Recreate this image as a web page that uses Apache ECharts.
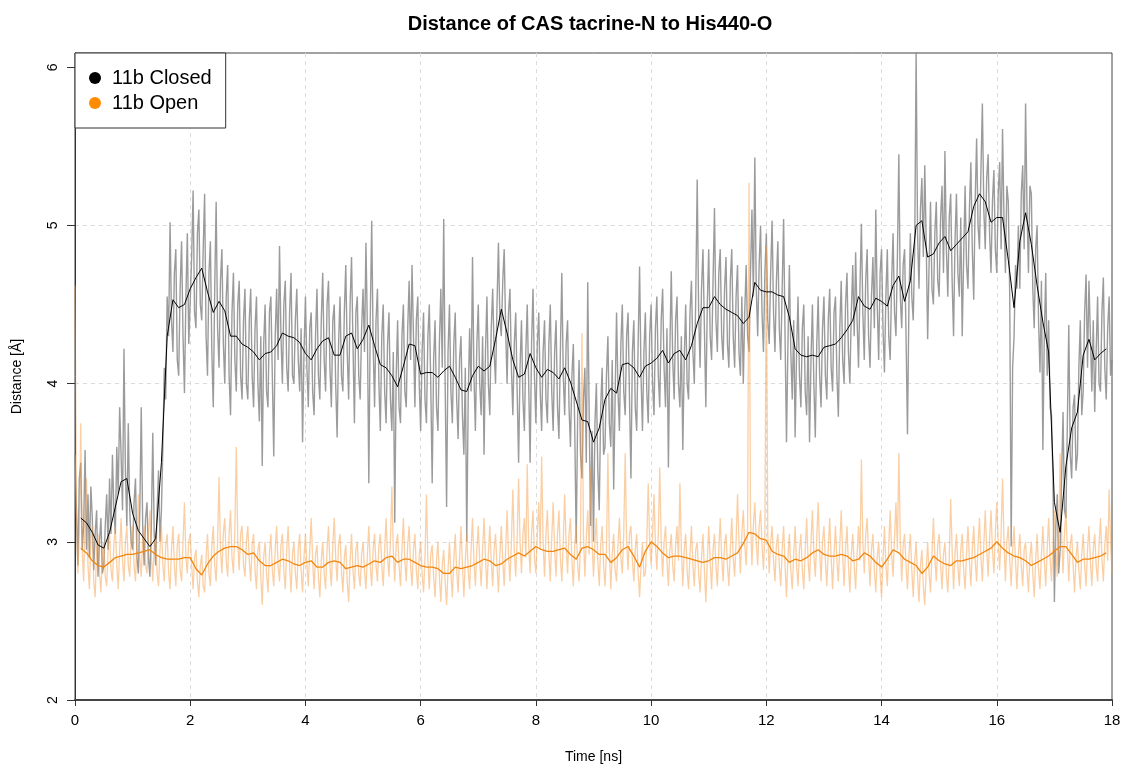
<!DOCTYPE html>
<html>
<head>
<meta charset="utf-8">
<title>Distance of CAS tacrine-N to His440-O</title>
<script src="https://cdn.jsdelivr.net/npm/echarts@6/dist/echarts.min.js"></script>
<style>
  html, body { margin: 0; padding: 0; background: #fff; }
  #chart { width: 1122px; height: 767px; }
</style>
</head>
<body>
<div id="chart"></div>
<script>
// Sampling of the trajectories (ns between stored frames)
const rawStep = 0.025;
const smoothStart = 0.1;
const smoothStep = 0.1;

const xTicks = [0, 2, 4, 6, 8, 10, 12, 14, 16, 18];
const yTicks = [2, 3, 4, 5, 6];

// 11b Closed: raw distance, two rows per ns
const closedRaw = [
  3.55, 3.20, 2.85, 3.40, 3.50, 2.95, 3.10, 3.58, 2.95, 3.30, 2.90, 3.35, 3.15, 2.82, 3.05, 3.20, 2.78, 3.00, 3.15, 2.80,
  2.85, 3.10, 3.30, 2.95, 3.40, 3.05, 3.55, 3.20, 3.05, 3.60, 3.30, 3.85, 3.55, 3.20, 4.22, 3.45, 3.10, 3.75, 3.20, 3.00,
  2.95, 3.25, 3.40, 2.90, 2.80, 3.20, 3.85, 3.10, 2.85, 3.15, 3.25, 2.90, 2.78, 3.10, 3.69, 3.05, 2.85, 3.20, 3.45, 3.00,
  3.20, 3.60, 4.10, 3.90, 4.55, 4.30, 5.02, 4.40, 4.20, 4.70, 4.85, 4.15, 4.05, 4.60, 4.90, 4.30, 3.94, 4.55, 4.95, 4.25,
  4.25, 4.80, 5.22, 4.45, 4.35, 4.95, 5.10, 4.50, 4.40, 4.85, 5.20, 4.30, 4.05, 4.70, 4.90, 4.20, 3.85, 4.60, 5.15, 4.35,
  4.10, 4.65, 4.85, 4.25, 4.00, 4.55, 4.75, 4.05, 3.80, 4.45, 4.70, 4.15, 3.95, 4.50, 4.65, 4.05, 3.90, 4.40, 4.60, 4.00,
  3.90, 4.40, 4.60, 4.05, 3.85, 4.35, 4.55, 4.00, 3.76, 4.30, 3.48, 4.25, 4.50, 3.95, 3.85, 4.45, 4.55, 4.05, 3.54, 4.30,
  4.60, 4.15, 4.87, 4.30, 4.00, 4.50, 4.65, 4.10, 3.95, 4.45, 4.70, 4.05, 4.00, 4.40, 4.60, 4.15, 3.95, 4.35, 3.63, 4.20,
  4.55, 4.10, 3.85, 4.35, 4.45, 3.95, 3.80, 4.30, 4.60, 4.05, 3.90, 4.40, 4.70, 4.15, 3.95, 4.50, 4.65, 4.10, 3.85, 4.40,
  4.50, 4.00, 3.66, 4.25, 4.55, 4.05, 3.95, 4.45, 4.75, 4.20, 3.90, 4.50, 4.80, 4.25, 3.75, 4.45, 4.55, 4.05, 3.90, 4.35,
  4.60, 4.20, 4.89, 4.35, 3.37, 4.40, 5.03, 4.25, 3.85, 4.40, 4.60, 4.00, 3.70, 4.30, 4.50, 3.95, 3.75, 4.25, 4.45, 3.90,
  3.70, 4.20, 3.12, 4.05, 4.40, 3.85, 3.75, 4.30, 4.50, 3.95, 3.85, 4.35, 4.65, 4.15, 4.75, 4.30, 3.85, 4.40, 4.55, 4.00,
  3.70, 4.20, 4.45, 3.90, 3.75, 4.30, 4.50, 4.00, 3.37, 4.15, 4.40, 3.85, 3.70, 4.25, 4.60, 4.10, 5.04, 4.00, 3.22, 4.20,
  4.50, 3.95, 3.75, 4.25, 4.45, 3.90, 3.65, 4.15, 4.30, 3.80, 3.55, 4.10, 3.00, 3.90, 4.35, 3.95, 4.80, 4.05, 3.70, 4.25,
  4.50, 4.00, 3.80, 4.30, 3.55, 4.20, 4.55, 4.00, 3.80, 4.35, 4.60, 4.20, 4.00, 4.50, 4.89, 4.40, 4.30, 4.65, 4.85, 4.35,
  4.00, 4.45, 4.60, 4.10, 3.80, 4.25, 4.45, 3.95, 3.50, 4.10, 4.40, 3.90, 3.70, 4.20, 4.50, 4.00, 3.50, 4.25, 4.60, 4.05,
  3.75, 4.25, 4.45, 3.95, 3.70, 4.20, 4.40, 3.90, 3.75, 4.25, 4.50, 3.95, 3.70, 4.20, 4.40, 3.85, 3.65, 4.20, 4.70, 4.05,
  3.80, 4.25, 4.40, 3.85, 3.60, 4.05, 4.25, 3.70, 2.99, 3.80, 4.15, 3.55, 3.40, 3.90, 4.10, 3.50, 4.64, 3.80, 3.10, 3.70,
  3.00, 3.75, 4.00, 3.45, 3.20, 3.85, 4.10, 3.55, 3.60, 4.05, 4.30, 3.75, 3.60, 4.15, 3.33, 3.90, 4.45, 3.95, 3.70, 4.25,
  4.50, 3.95, 3.80, 4.30, 4.45, 3.90, 3.40, 4.20, 4.40, 3.85, 3.70, 4.25, 4.74, 4.05, 3.70, 4.20, 4.45, 3.95, 3.75, 4.30,
  4.50, 4.00, 3.80, 4.35, 4.55, 4.05, 3.85, 4.40, 4.60, 4.10, 3.85, 4.35, 3.47, 4.20, 4.71, 4.15, 3.90, 4.40, 4.55, 4.00,
  3.85, 4.30, 3.58, 4.15, 4.50, 4.00, 3.90, 4.45, 4.65, 4.20, 4.00, 4.55, 5.29, 4.45, 4.10, 4.60, 4.85, 4.35, 3.85, 4.50,
  4.85, 4.30, 4.15, 4.65, 5.11, 4.40, 4.20, 4.70, 4.85, 4.30, 4.15, 4.60, 4.80, 4.25, 4.10, 4.65, 4.85, 4.30, 4.10, 4.55,
  4.75, 4.20, 4.05, 4.55, 4.00, 4.45, 4.75, 4.30, 4.20, 4.70, 5.10, 4.55, 5.43, 4.60, 4.30, 4.75, 5.00, 4.45, 4.20, 4.70,
  4.95, 4.40, 4.25, 4.70, 5.03, 4.45, 4.20, 4.65, 4.90, 4.35, 4.15, 4.60, 5.04, 4.30, 3.63, 4.25, 4.75, 4.20, 3.90, 4.40,
  3.66, 4.20, 4.55, 4.05, 3.85, 4.35, 4.50, 3.95, 3.80, 4.30, 3.63, 4.15, 4.50, 4.00, 3.66, 4.25, 4.55, 4.05, 3.85, 4.35,
  4.55, 4.05, 3.90, 4.40, 4.60, 4.10, 3.95, 4.45, 4.55, 4.05, 3.79, 4.35, 4.65, 4.15, 4.00, 4.50, 4.70, 4.20, 4.00, 4.45,
  4.75, 4.30, 4.83, 4.40, 4.10, 4.60, 5.01, 4.45, 4.15, 4.65, 4.85, 4.30, 4.10, 4.55, 4.80, 4.35, 5.10, 4.50, 4.15, 4.70,
  4.85, 4.35, 4.07, 4.55, 4.85, 4.30, 4.15, 4.65, 4.95, 4.45, 4.30, 4.80, 5.45, 4.55, 4.35, 4.75, 4.85, 4.30, 3.68, 4.50,
  4.95, 4.55, 4.40, 4.85, 6.10, 4.95, 4.60, 5.10, 5.30, 4.80, 5.38, 4.90, 4.28, 4.75, 5.15, 4.60, 4.50, 4.95, 5.15, 4.65,
  4.55, 5.05, 5.25, 4.70, 5.47, 4.85, 4.55, 5.05, 5.20, 4.65, 4.30, 4.90, 5.20, 4.70, 4.55, 5.05, 4.30, 4.80, 5.25, 4.75,
  4.60, 5.10, 5.40, 4.85, 4.53, 5.15, 5.55, 5.00, 4.85, 5.35, 5.77, 5.10, 4.85, 5.30, 5.45, 4.95, 4.70, 5.15, 5.35, 4.85,
  4.70, 5.20, 5.40, 4.85, 5.61, 5.05, 4.70, 5.25, 5.15, 4.55, 2.97, 4.10, 4.30, 4.75, 4.60, 5.00, 4.60, 5.20, 5.38, 4.85,
  5.77, 5.10, 4.70, 5.25, 5.20, 4.60, 4.35, 4.85, 5.00, 4.40, 4.07, 4.65, 3.58, 4.30, 4.70, 4.05, 4.40, 3.85, 3.80, 3.40,
  2.62, 3.10, 3.30, 2.80, 2.95, 3.40, 3.82, 3.20, 3.15, 3.75, 4.37, 3.55, 3.40, 3.85, 3.93, 3.45, 3.55, 4.10, 4.40, 3.80,
  3.95, 4.45, 4.69, 4.10, 4.65, 4.30, 3.95, 4.40, 3.82, 4.20, 4.55, 4.00, 3.95, 4.45, 4.67, 4.10, 3.90, 4.35, 4.55, 4.05,
  4.15
];

// 11b Open: raw distance, two rows per ns
const openRaw = [
  4.62, 3.20, 2.80, 3.05, 3.75, 2.95, 2.75, 3.15, 3.40, 2.85, 2.70, 3.00, 3.10, 2.75, 2.65, 2.95, 3.05, 2.80, 2.68, 2.92,
  3.00, 2.78, 2.72, 2.95, 3.05, 2.82, 2.75, 2.98, 3.10, 2.85, 2.70, 2.95, 3.15, 2.88, 2.75, 3.00, 3.10, 2.85, 2.78, 3.02,
  3.10, 2.85, 2.75, 3.00, 3.30, 2.90, 2.78, 3.02, 3.10, 2.85, 2.80, 3.05, 3.20, 2.92, 2.75, 2.98, 3.05, 2.80, 2.72, 2.95,
  3.10, 2.85, 2.75, 2.98, 3.05, 2.80, 2.70, 2.95, 3.10, 2.85, 2.72, 2.98, 3.05, 2.82, 2.75, 3.00, 3.25, 2.90, 2.80, 3.00,
  3.05, 2.85, 2.70, 2.90, 2.95, 2.75, 2.65, 2.85, 2.92, 2.72, 2.68, 2.90, 3.05, 2.80, 2.72, 2.98, 3.10, 2.85, 2.75, 3.00,
  3.41, 2.95, 2.80, 3.05, 3.15, 2.88, 2.78, 3.05, 3.20, 2.90, 2.80, 3.08, 3.60, 3.00, 2.82, 3.05, 3.10, 2.85, 2.78, 3.00,
  3.10, 2.88, 2.75, 2.98, 3.05, 2.82, 2.70, 2.95, 3.00, 2.78, 2.60, 2.90, 3.00, 2.80, 2.68, 2.92, 3.05, 2.82, 2.72, 2.95,
  3.10, 2.85, 2.75, 2.98, 3.05, 2.82, 2.70, 2.95, 3.10, 2.85, 2.68, 2.92, 3.00, 2.80, 2.70, 2.95, 3.05, 2.82, 2.68, 2.90,
  3.05, 2.85, 2.72, 2.95, 3.15, 2.88, 2.70, 2.92, 2.98, 2.78, 2.65, 2.88, 3.00, 2.80, 2.70, 2.95, 3.10, 2.85, 2.72, 2.98,
  3.15, 2.90, 2.75, 2.98, 3.05, 2.82, 2.68, 2.90, 2.98, 2.75, 2.62, 2.88, 3.05, 2.82, 2.70, 2.95, 3.00, 2.80, 2.72, 2.92,
  3.00, 2.82, 2.70, 2.92, 3.10, 2.85, 2.72, 2.95, 3.05, 2.85, 2.75, 2.98, 3.05, 2.85, 2.72, 2.95, 3.15, 2.90, 2.78, 3.00,
  3.35, 2.95, 2.75, 2.98, 3.05, 2.85, 2.72, 2.95, 3.15, 2.88, 2.75, 2.98, 3.10, 2.85, 2.72, 2.95, 3.05, 2.82, 2.70, 2.92,
  3.00, 2.80, 2.68, 2.90, 3.30, 2.88, 2.70, 2.92, 2.98, 2.78, 2.65, 2.88, 3.00, 2.78, 2.62, 2.85, 2.95, 2.75, 2.60, 2.82,
  3.00, 2.80, 2.65, 2.88, 3.05, 2.82, 2.68, 2.90, 3.10, 2.85, 2.65, 2.88, 3.05, 2.82, 2.70, 2.95, 3.15, 2.88, 2.72, 2.95,
  3.10, 2.88, 2.72, 2.95, 3.15, 2.90, 2.70, 2.92, 3.10, 2.88, 2.72, 2.95, 3.05, 2.85, 2.68, 2.92, 3.10, 2.88, 2.72, 2.95,
  3.20, 2.92, 2.75, 3.00, 3.33, 2.95, 2.78, 3.02, 3.40, 3.00, 2.80, 3.05, 3.15, 2.90, 3.49, 2.98, 2.80, 3.05, 3.20, 2.90,
  2.80, 3.05, 3.25, 2.95, 3.54, 3.00, 2.78, 3.05, 3.20, 2.92, 2.75, 3.02, 3.25, 2.95, 2.78, 3.05, 3.20, 2.90, 2.75, 3.00,
  3.30, 2.98, 2.80, 3.05, 3.15, 2.88, 2.72, 2.98, 3.10, 2.85, 2.75, 3.00, 4.32, 3.05, 2.78, 3.02, 3.20, 2.92, 3.47, 3.00,
  2.78, 3.00, 3.15, 2.88, 2.72, 2.98, 3.10, 2.85, 2.72, 2.95, 3.56, 2.95, 2.70, 2.92, 3.05, 2.82, 2.75, 2.98, 3.15, 2.90,
  2.80, 3.05, 3.56, 3.00, 2.82, 3.05, 3.10, 2.88, 2.75, 2.95, 3.05, 2.80, 2.65, 2.85, 3.00, 2.78, 2.80, 3.00, 3.37, 3.00,
  2.85, 3.05, 3.30, 2.98, 2.82, 3.05, 3.47, 3.00, 2.78, 3.00, 3.10, 2.88, 2.72, 2.95, 3.05, 2.85, 2.75, 2.98, 3.10, 2.88,
  3.37, 2.95, 2.72, 2.95, 3.05, 2.82, 2.70, 2.92, 3.10, 2.85, 2.72, 2.95, 3.00, 2.80, 2.68, 2.90, 3.05, 2.82, 2.62, 2.88,
  3.10, 2.88, 2.70, 2.95, 3.05, 2.85, 2.72, 2.95, 3.15, 2.90, 2.75, 2.98, 3.05, 2.85, 2.72, 2.95, 3.15, 2.90, 2.78, 3.00,
  3.30, 3.00, 2.80, 3.05, 3.20, 2.98, 2.85, 3.10, 5.27, 3.15, 2.85, 3.10, 3.25, 3.00, 2.85, 3.10, 3.20, 2.98, 2.82, 3.05,
  4.87, 3.05, 2.80, 3.00, 3.10, 2.88, 2.75, 2.98, 3.05, 2.85, 2.72, 2.95, 3.10, 2.85, 2.65, 2.90, 3.05, 2.82, 2.70, 2.92,
  3.10, 2.85, 2.72, 2.95, 3.05, 2.82, 2.70, 2.95, 3.15, 2.88, 2.75, 3.00, 3.20, 2.92, 2.78, 3.02, 3.25, 2.95, 2.75, 3.00,
  3.10, 2.88, 2.72, 2.95, 3.15, 2.90, 2.70, 2.92, 3.10, 2.88, 2.75, 2.98, 3.20, 2.92, 2.72, 2.95, 3.10, 2.85, 2.68, 2.92,
  3.05, 2.85, 2.70, 2.92, 3.10, 2.88, 3.52, 3.00, 2.80, 3.05, 3.15, 2.90, 2.72, 2.95, 3.05, 2.82, 2.68, 2.90, 3.00, 2.80,
  2.65, 2.88, 3.10, 2.85, 2.72, 2.98, 3.20, 2.92, 2.78, 3.02, 3.25, 2.95, 3.56, 3.00, 2.75, 2.98, 3.05, 2.85, 2.70, 2.92,
  3.05, 2.82, 2.65, 2.88, 3.00, 2.78, 2.62, 2.85, 2.95, 2.72, 2.60, 2.82, 3.00, 2.80, 2.68, 2.92, 3.15, 2.90, 2.75, 2.98,
  3.05, 2.85, 2.70, 2.92, 3.00, 2.80, 2.68, 2.90, 3.27, 2.95, 2.70, 2.92, 3.05, 2.85, 2.72, 2.95, 3.05, 2.82, 2.70, 2.92,
  3.10, 2.88, 2.72, 2.95, 3.10, 2.88, 2.75, 2.98, 3.15, 2.90, 2.75, 2.98, 3.20, 2.95, 2.78, 3.02, 3.20, 2.95, 2.80, 3.05,
  3.25, 3.00, 2.82, 3.05, 3.40, 3.00, 2.75, 3.00, 3.10, 2.88, 2.72, 2.95, 3.10, 2.88, 2.70, 2.92, 3.05, 2.85, 2.72, 2.95,
  3.00, 2.82, 2.68, 2.90, 3.00, 2.80, 2.65, 2.88, 3.05, 2.82, 2.70, 2.92, 3.10, 2.88, 2.72, 2.95, 3.15, 2.90, 2.75, 2.98,
  3.20, 2.95, 2.78, 3.02, 3.56, 3.05, 2.80, 3.05, 3.20, 2.95, 2.75, 2.98, 3.05, 2.85, 2.68, 2.90, 3.00, 2.82, 2.70, 2.92,
  3.05, 2.85, 2.72, 2.95, 3.10, 2.88, 2.72, 2.95, 3.05, 2.85, 2.75, 2.98, 3.15, 2.90, 2.75, 2.98, 3.10, 2.88, 3.33, 3.00,
  2.80
];

// Running averages, from 0.1 ns to 17.9 ns, ten values per row
const closedSmooth = [
  3.15, 3.12, 3.06, 2.98, 2.96, 3.06, 3.22, 3.38, 3.40, 3.18,
  3.07, 3.02, 2.97, 3.02, 3.50, 4.30, 4.53, 4.48, 4.50, 4.60,
  4.67, 4.73, 4.58, 4.45, 4.52, 4.46, 4.30, 4.30, 4.25, 4.23,
  4.20, 4.15, 4.19, 4.20, 4.24, 4.32, 4.30, 4.29, 4.26, 4.19,
  4.15, 4.22, 4.27, 4.29, 4.18, 4.18, 4.30, 4.32, 4.22, 4.28,
  4.37, 4.24, 4.12, 4.10, 4.05, 3.98, 4.11, 4.25, 4.24, 4.06,
  4.07, 4.07, 4.04, 4.08, 4.11, 4.04, 3.96, 3.95, 4.05, 4.11,
  4.08, 4.11, 4.28, 4.47, 4.32, 4.15, 4.04, 4.06, 4.19, 4.10,
  4.04, 4.09, 4.07, 4.03, 4.10, 4.01, 3.89, 3.77, 3.76, 3.63,
  3.72, 3.90, 3.97, 3.94, 4.12, 4.13, 4.10, 4.04, 4.11, 4.13,
  4.16, 4.21, 4.13, 4.19, 4.21, 4.15, 4.24, 4.38, 4.48, 4.48,
  4.55, 4.50, 4.47, 4.45, 4.43, 4.38, 4.42, 4.64, 4.59, 4.58,
  4.58, 4.56, 4.55, 4.42, 4.22, 4.18, 4.17, 4.18, 4.17, 4.23,
  4.24, 4.25, 4.29, 4.34, 4.40, 4.55, 4.49, 4.47, 4.54, 4.52,
  4.49, 4.62, 4.68, 4.52, 4.65, 5.00, 5.03, 4.80, 4.82, 4.89,
  4.93, 4.84, 4.88, 4.92, 4.96, 5.12, 5.20, 5.15, 5.02, 5.05,
  5.05, 4.78, 4.48, 4.90, 5.08, 4.88, 4.62, 4.39, 4.20, 3.25,
  3.06, 3.48, 3.72, 3.82, 4.18, 4.28, 4.15, 4.19, 4.22
];

const openSmooth = [
  2.96, 2.93, 2.88, 2.85, 2.84, 2.87, 2.90, 2.91, 2.92, 2.92,
  2.93, 2.94, 2.95, 2.92, 2.90, 2.89, 2.89, 2.89, 2.90, 2.90,
  2.83, 2.79, 2.86, 2.91, 2.94, 2.96, 2.97, 2.97, 2.95, 2.92,
  2.93, 2.88, 2.85, 2.85, 2.87, 2.89, 2.88, 2.86, 2.85, 2.87,
  2.88, 2.84, 2.84, 2.87, 2.88, 2.87, 2.83, 2.84, 2.85, 2.84,
  2.86, 2.88, 2.87, 2.90, 2.91, 2.87, 2.89, 2.89, 2.87, 2.85,
  2.84, 2.84, 2.83, 2.80, 2.80, 2.84, 2.83, 2.84, 2.85, 2.87,
  2.89, 2.88, 2.85, 2.86, 2.89, 2.91, 2.93, 2.91, 2.94, 2.97,
  2.95, 2.94, 2.94, 2.95, 2.96, 2.92, 2.89, 2.96, 2.97, 2.95,
  2.92, 2.92, 2.87, 2.90, 2.95, 2.97, 2.91, 2.84, 2.94, 3.00,
  2.97, 2.93, 2.90, 2.91, 2.91, 2.90, 2.89, 2.88, 2.87, 2.88,
  2.90, 2.90, 2.89, 2.91, 2.93, 2.99, 3.06, 3.05, 3.02, 3.01,
  2.94, 2.92, 2.91, 2.87, 2.89, 2.88, 2.90, 2.93, 2.95, 2.92,
  2.91, 2.91, 2.92, 2.91, 2.88, 2.89, 2.93, 2.91, 2.87, 2.84,
  2.89, 2.95, 2.93, 2.89, 2.87, 2.85, 2.80, 2.84, 2.91, 2.88,
  2.86, 2.85, 2.88, 2.88, 2.89, 2.90, 2.92, 2.94, 2.96, 3.00,
  2.96, 2.93, 2.91, 2.90, 2.88, 2.85, 2.87, 2.89, 2.91, 2.94,
  2.97, 2.97, 2.92, 2.87, 2.89, 2.89, 2.90, 2.91, 2.93
];

const toPoints = (values, start, step) =>
  values.map((v, i) => [+(start + i * step).toFixed(3), v]);

const labelFont = "'Liberation Sans Narrow', 'Liberation Sans', Arial, sans-serif";
const mainFont = "'Liberation Sans', Arial, sans-serif";

const dashed = { color: '#dcdcdc', type: [4, 4], width: 1 };

const chart = echarts.init(document.getElementById('chart'), null, { renderer: 'canvas' });

chart.setOption({
  backgroundColor: '#ffffff',
  animation: false,
  title: {
    text: 'Distance of CAS tacrine-N to His440-O',
    left: 585,
    top: 9,
    textAlign: 'center',
    textStyle: { fontFamily: mainFont, fontSize: 20, fontWeight: 'bold', color: '#000' }
  },
  legend: {
    left: 75,
    top: 53,
    orient: 'vertical',
    data: ['11b Closed', '11b Open'],
    icon: 'circle',
    itemWidth: 24,
    itemHeight: 12,
    itemGap: 5,
    padding: [15, 14, 15, 14],
    backgroundColor: '#ffffff',
    borderColor: '#333',
    borderWidth: 1,
    borderRadius: 0,
    z: 10,
    textStyle: { fontFamily: mainFont, fontSize: 20, color: '#000' }
  },
  grid: {
    left: 75, right: 10, top: 53, bottom: 67,
    outerBoundsMode: 'none',
    containLabel: false,
    show: true,
    borderColor: '#444',
    borderWidth: 1
  },
  xAxis: {
    type: 'value',
    min: xTicks[0],
    max: xTicks[xTicks.length - 1],
    interval: 2,
    name: 'Time [ns]',
    nameLocation: 'middle',
    nameGap: 50,
    nameTextStyle: { fontFamily: labelFont, fontSize: 14, color: '#000' },
    axisLine: { lineStyle: { color: '#444', width: 2 } },
    axisTick: { length: 6, lineStyle: { color: '#333' } },
    axisLabel: { fontFamily: labelFont, fontSize: 15, color: '#000', margin: 13 },
    splitLine: { show: true, showMinLine: false, showMaxLine: false, lineStyle: dashed }
  },
  yAxis: {
    type: 'value',
    min: yTicks[0],
    max: 6.09,
    interval: 1,
    name: 'Distance [Å]',
    nameLocation: 'middle',
    nameGap: 51,
    nameTextStyle: { fontFamily: labelFont, fontSize: 14, color: '#000' },
    axisLine: { show: true, lineStyle: { color: '#333', width: 1 } },
    axisTick: { show: true, length: 8, customValues: yTicks, lineStyle: { color: '#333' } },
    axisLabel: { fontFamily: labelFont, fontSize: 14, color: '#000', rotate: 90, margin: 15, customValues: yTicks },
    splitLine: { show: true, showMinLine: false, showMaxLine: false, lineStyle: dashed }
  },
  series: [
    {
      name: 'closed raw',
      type: 'line',
      data: toPoints(closedRaw, 0, rawStep),
      showSymbol: false,
      silent: true,
      lineStyle: { color: '#8a8a8a', width: 1.4, opacity: 0.85 },
      itemStyle: { color: '#8a8a8a' },
      z: 1
    },
    {
      name: 'open raw',
      type: 'line',
      data: toPoints(openRaw, 0, rawStep),
      showSymbol: false,
      silent: true,
      lineStyle: { color: '#f7a04a', width: 1.3, opacity: 0.5 },
      itemStyle: { color: '#f7a04a' },
      z: 2
    },
    {
      name: '11b Closed',
      type: 'line',
      data: toPoints(closedSmooth, smoothStart, smoothStep),
      showSymbol: false,
      silent: true,
      lineStyle: { color: '#000000', width: 1 },
      itemStyle: { color: '#000000' },
      z: 3
    },
    {
      name: '11b Open',
      type: 'line',
      data: toPoints(openSmooth, smoothStart, smoothStep),
      showSymbol: false,
      silent: true,
      lineStyle: { color: '#f0860f', width: 1.3 },
      itemStyle: { color: '#ff8c00' },
      z: 4
    }
  ]
});
</script>
</body>
</html>
